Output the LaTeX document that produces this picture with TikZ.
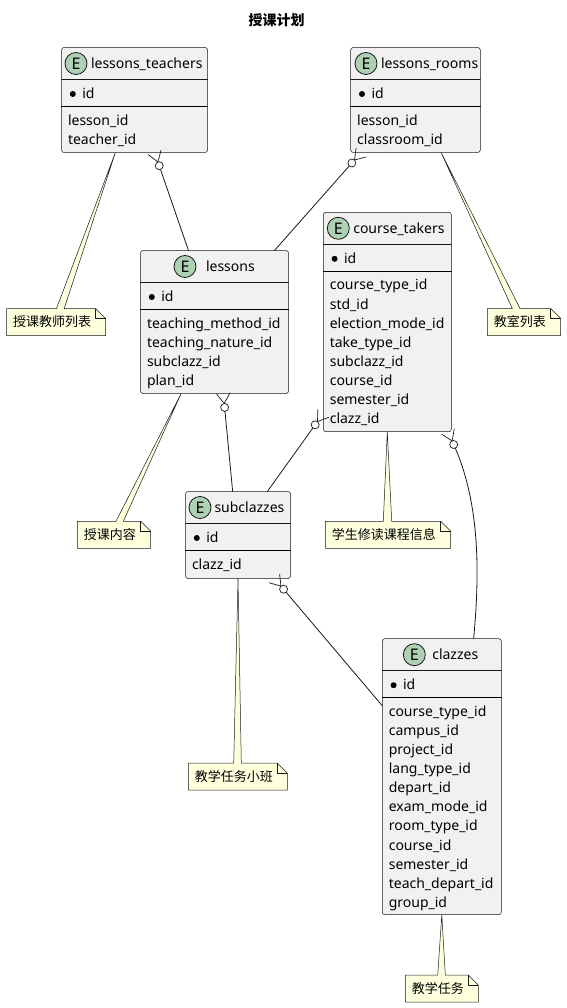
\documentclass[tikz,border=0pt]{standalone}
\usepackage{fontspec}
\setmainfont{Noto Sans}
\newfontfamily\cjkfont{Noto Sans CJK SC}
\usetikzlibrary{calc,backgrounds}

\definecolor{entityfill}{HTML}{F1F1F1}
\definecolor{entityline}{HTML}{181818}
\definecolor{iconfill}{HTML}{ADD1B2}
\definecolor{notefill}{HTML}{FEFFDD}

\tikzset{
  entitybox/.style={draw=entityline,fill=entityfill,line width=.5pt,rounded corners=2.5pt,
    inner sep=0pt,outer sep=0pt,anchor=north west},
  entitytext/.style={inner sep=0pt,outer sep=0pt,anchor=base west,font=\fontsize{14}{16}\selectfont},
  iconbadge/.style={circle,draw=entityline,fill=iconfill,line width=.8pt,minimum size=22pt,inner sep=0pt,
    font=\fontsize{16}{16}\selectfont},
  notebox/.style={inner sep=0pt,outer sep=0pt,anchor=north west,minimum height=27pt,
    font=\cjkfont\fontsize{13}{15}\selectfont},
  noteline/.style={draw=entityline,fill=notefill,line width=.5pt,line join=round},
  link/.style={draw=entityline,line width=.8pt,shorten >=18pt},
  crowline/.style={draw=entityline,line width=.7pt},
}

% name, left, top, width, height, icon offset, title offset, title, rows
\newcommand{\entity}[9]{
  \node[entitybox,minimum width=#4pt,minimum height=#5pt] (#1) at (#2,#3) {};
  \draw[entityline,line width=.5pt] ($(#1.north west)+(0,32)$) -- ($(#1.north east)+(0,32)$);
  \draw[black,line width=1pt] ($(#1.north west)+(0,59)$) -- ($(#1.north east)+(0,59)$);
  \node[iconbadge] (#1_icon) at ($(#1.north west)+(#6,16)$) {E};
  \node[entitytext] (#1_title) at ($(#1.north west)+(#7,21)$) {#8};
  \fill ($(#1.north west)+(11.3,46.5)$) circle (3pt);
  \node[entitytext] (#1_key) at ($(#1.north west)+(20.8,51)$) {id};
  \foreach \rowname [count=\i] in {#9}
    \node[entitytext] (#1_row\i) at ($(#1.north west)+(6.5,{77.6+19.1*(\i-1)})$) {\rowname};
}

% foot on the box at #2, line coming from #1
\newcommand{\crowfoot}[2]{
  \draw[crowline] ($(#2)!6.7pt!90:(#1)$) -- ($(#2)!10pt!(#1)$) -- ($(#2)!6.7pt!-90:(#1)$);
  \draw[crowline,fill=white] ($(#2)!14pt!(#1)$) circle (4pt);
}

% name, left, top, width, tail left, tail right, apex, text
\newcommand{\notelabel}[8]{
  \node[notebox,minimum width=#4pt,text width=#4pt,align=left] (#1) at (#2,#3)
    {\hspace*{6.5pt}#8};
  \begin{scope}[on background layer]
    \path[noteline] (#1.north west) -- ($(#1.north west)+(#5,0)$) -- (#7) -- ($(#1.north west)+(#6,0)$)
      -- ($(#1.north east)+(-10,0)$) -- ($(#1.north east)+(0,10)$) -- (#1.south east) -- (#1.south west) -- cycle;
    \draw[entityline,line width=.5pt,line join=round] ($(#1.north east)+(-10,0)$) -- ($(#1.north east)+(-10,10)$) -- ($(#1.north east)+(0,10)$);
  \end{scope}
}

\begin{document}
\begin{tikzpicture}[x=1pt,y=-1pt,line cap=round]
  \useasboundingbox (0,0) rectangle (566,1008);
  \node[font=\cjkfont\bfseries\fontsize{14}{16}\selectfont] (plan_title) at (276.5,20) {授课计划};

  % --- entities ---
  \entity{lessons_teachers}{61.5}{47.5}{146}{105}{14.5}{29.5}{lessons\_teachers}{lesson\_id,teacher\_id}
  \entity{lessons_rooms}{350.7}{47.5}{129.6}{105}{15.3}{30.3}{lessons\_rooms}{lesson\_id,classroom\_id}
  \entity{lessons}{140.5}{250.5}{148}{143}{44.5}{65.5}{lessons}
    {teaching\_method\_id,teaching\_nature\_id,subclazz\_id,plan\_id}
  \entity{course_takers}{323.3}{212.3}{128}{219.4}{15}{30}{course\_takers}
    {course\_type\_id,std\_id,election\_mode\_id,take\_type\_id,subclazz\_id,course\_id,semester\_id,clazz\_id}
  \entity{subclazzes}{185.5}{491.5}{105}{87}{14.5}{29}{subclazzes}{clazz\_id}
  \entity{clazzes}{382.3}{638.7}{119}{276}{32}{50}{clazzes}
    {course\_type\_id,campus\_id,project\_id,lang\_type\_id,depart\_id,exam\_mode\_id,room\_type\_id,course\_id,semester\_id,teach\_depart\_id,group\_id}

  % --- relations ---
  \draw[link] (lessons.110.3) -- (lessons_teachers.-69.6);
  \crowfoot{lessons.110.3}{lessons_teachers.-69.6}
  \draw[link] (lessons.50.95) -- (lessons_rooms.224.1);
  \crowfoot{lessons.50.95}{lessons_rooms.224.1}
  \draw[link] (subclazzes.97) -- (lessons.-83.6);
  \crowfoot{subclazzes.97}{lessons.-83.6}
  \draw[link] (subclazzes.56) -- (course_takers.235);
  \crowfoot{subclazzes.56}{course_takers.235}
  \coordinate (clazzes_bend_a) at (478,590);
  \coordinate (clazzes_bend_b) at (483,512);
  \draw[link] (clazzes.77.8) .. controls (clazzes_bend_a) and (clazzes_bend_b) .. (course_takers.-61);
  \crowfoot{clazzes_bend_b}{course_takers.-61}
  \draw[link] (clazzes.130.1) -- (subclazzes.-50.4);
  \crowfoot{clazzes.130.1}{subclazzes.-50.4}

  % --- notes ---
  \coordinate (teachers_tip) at (lessons_teachers.-110.4);
  \coordinate (rooms_tip) at (lessons_rooms.-64.1);
  \coordinate (lessons_tip) at (lessons.-115.3);
  \notelabel{note_teachers}{6.5}{308.5}{99}{50}{57.7}{teachers_tip}{授课教师列表}
  \notelabel{note_rooms}{487.3}{308.5}{73.4}{25}{32.7}{rooms_tip}{教室列表}
  \notelabel{note_lessons}{77.3}{521.3}{73.4}{38.7}{46}{lessons_tip}{授课内容}
  \notelabel{note_takers}{325.3}{521.3}{125.4}{58}{66.4}{course_takers.south}{学生修读课程信息}
  \notelabel{note_subclazzes}{188.3}{763}{99}{45.4}{53}{subclazzes.south}{教学任务小班}
  \notelabel{note_clazzes}{405.3}{975}{73}{32.4}{40}{clazzes.south}{教学任务}
\end{tikzpicture}
\end{document}
